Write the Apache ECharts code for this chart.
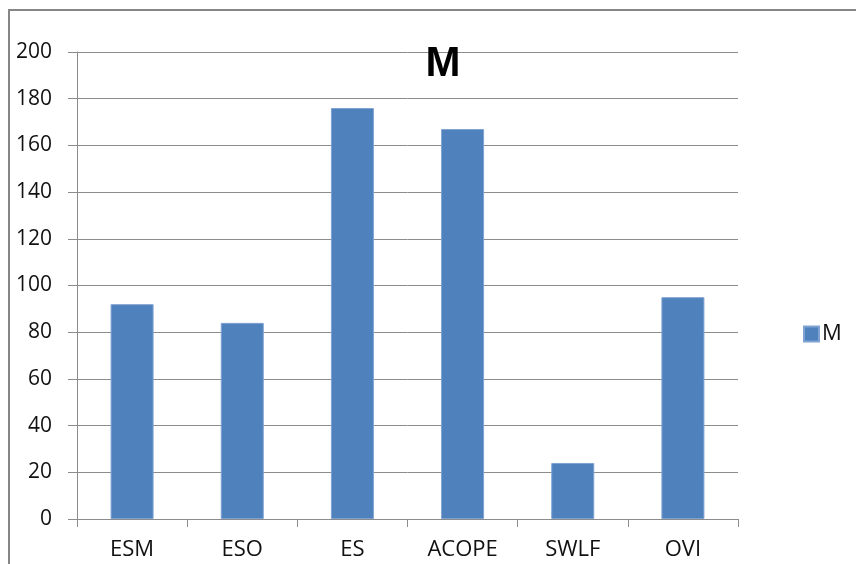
<!DOCTYPE html>
<html>
<head>
<meta charset="utf-8">
<script src="https://cdn.jsdelivr.net/npm/echarts@6/dist/echarts.min.js"></script>
<style>
html,body{margin:0;padding:0;background:#fff;}
#chart{width:856px;height:564px;}
</style>
</head>
<body>
<div id="chart"></div>
<script>
const categories = ['ESM', 'ESO', 'ES', 'ACOPE', 'SWLF', 'OVI'];
const seriesName = 'M';
const values = [92, 84, 176, 167, 24, 95];
const yTicks = { min: 0, max: 200, interval: 20 };

const chart = echarts.init(document.getElementById('chart'), null, { renderer: 'canvas' });
const font = '"Open Sans", "Noto Sans", sans-serif';
chart.setOption({
  animation: false,
  backgroundColor: '#fff',
  graphic: [{
    type: 'rect',
    shape: { x: 9, y: 10, width: 900, height: 600 },
    style: { fill: 'none', stroke: '#868686', lineWidth: 2 },
    silent: true
  }],
  title: {
    text: seriesName,
    left: 438, top: 38,
    textAlign: 'center',
    textStyle: { fontFamily: 'Liberation Sans, Arial, sans-serif', fontWeight: 'bold', fontSize: 42, color: '#000' }
  },
  legend: {
    data: [seriesName],
    left: 798, top: 318,
    itemWidth: 15, itemHeight: 15, itemGap: 4,
    icon: 'rect',
    textStyle: { fontFamily: font, fontSize: 22, color: '#111', padding: [0,0,0,-2] }
  },
  grid: { left: 77, right: 118, top: 52, bottom: 45, containLabel: false },
  xAxis: {
    type: 'category',
    data: categories,
    axisLine: { lineStyle: { color: '#8c8c8c', width: 1 } },
    axisTick: { show: true, length: 8, lineStyle: { color: '#8c8c8c' } },
    axisLabel: { fontFamily: font, fontSize: 22, color: '#111', margin: 20 }
  },
  yAxis: {
    type: 'value',
    min: yTicks.min, max: yTicks.max, interval: yTicks.interval,
    axisLine: { show: true, lineStyle: { color: '#8c8c8c', width: 1 } },
    axisTick: { show: true, length: 9, lineStyle: { color: '#8c8c8c' } },
    axisLabel: { fontFamily: font, fontSize: 21, color: '#111', margin: 25 },
    splitLine: { show: true, lineStyle: { color: '#8c8c8c', width: 1 } }
  },
  series: [{
    name: seriesName,
    type: 'bar',
    data: values,
    barWidth: 43,
    itemStyle: { color: '#4f81bd', borderColor: '#7ea3d3', borderWidth: 1 }
  }]
});
</script>
</body>
</html>
